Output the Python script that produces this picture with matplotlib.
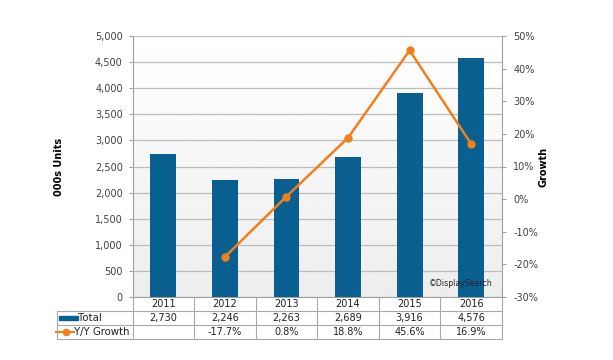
import matplotlib
matplotlib.use("Agg")
import matplotlib.pyplot as plt
from matplotlib.lines import Line2D
from matplotlib.patches import Rectangle
import numpy as np

years = ["2011", "2012", "2013", "2014", "2015", "2016"]
total = [2730, 2246, 2263, 2689, 3916, 4576]
growth = [None, -17.7, 0.8, 18.8, 45.6, 16.9]
total_labels = ["2,730", "2,246", "2,263", "2,689", "3,916", "4,576"]
growth_labels = ["", "-17.7%", "0.8%", "18.8%", "45.6%", "16.9%"]
left_ticks = list(range(0, 5001, 500))
right_ticks = list(range(-30, 51, 10))

W, H = 613, 360
fig = plt.figure(figsize=(W / 100, H / 100), dpi=100)
fig.patch.set_facecolor("white")

L, R, T, B = 132.5, 502, 36, 297
ax = fig.add_axes([L / W, 1 - B / H, (R - L) / W, (B - T) / H])
ax.set_facecolor("white")
# subtle vertical gradient background
grad = np.linspace(0.93, 1.0, 256).reshape(-1, 1)
ax.imshow(grad, aspect="auto", cmap="gray", vmin=0, vmax=1, origin="lower",
          extent=[-0.5, len(years) - 0.5, 0, 5000], zorder=0)

x = np.arange(len(years))
bar_color = "#0a5f91"
ax.bar(x, total, width=0.42, color=bar_color, zorder=3)
ax.set_xlim(-0.5, len(years) - 0.5)
ax.set_ylim(0, 5000)
ax.set_yticks(left_ticks)
ax.set_yticklabels([f"{v:,}" for v in left_ticks])
ax.yaxis.grid(True, color="#bcbcbc", linewidth=0.9, zorder=1)
ax.set_axisbelow(False)
ax.set_xticks([])
ax.tick_params(axis="y", labelsize=7, colors="#404040", length=3, width=0.8, color="#a0a0a0", pad=4)
for s in ["top", "right"]:
    ax.spines[s].set_visible(False)
ax.spines["left"].set_color("#a0a0a0")
ax.spines["bottom"].set_color("#a0a0a0")
ax.set_ylabel("000s Units", fontsize=7, fontweight="bold", labelpad=22)

ax2 = ax.twinx()
gx = [i for i, g in enumerate(growth) if g is not None]
gy = [g for g in growth if g is not None]
line_color = "#f07f1c"
ax2.plot(gx, gy, color=line_color, linewidth=1.8, marker="o", markersize=5,
         markerfacecolor=line_color, markeredgecolor=line_color, zorder=4)
ax2.set_ylim(-30, 50)
ax2.set_yticks(right_ticks)
ax2.set_yticklabels([f"{v}%" for v in right_ticks])
ax2.tick_params(axis="y", labelsize=7, colors="#404040", length=3, width=0.8, color="#a0a0a0", pad=5)
for s in ["top", "left", "bottom"]:
    ax2.spines[s].set_visible(False)
ax2.spines["right"].set_color("#a0a0a0")
ax2.set_ylabel("Growth", fontsize=7, fontweight="bold", labelpad=0)

ax.text(5.35, 268, "\u00a9DisplaySearch", fontsize=5.6, color="#222222",
        ha="right", va="center", zorder=5)

# Data table below the chart
def fx(px):
    return px / W

def fy(py):
    return 1 - py / H

col_w = (R - L) / len(years)
tbl_left = 57
rows_y = [311, 325, 339]
grid_c = "#a8a8a8"
for yy in rows_y:
    fig.add_artist(Line2D([fx(tbl_left), fx(R)], [fy(yy), fy(yy)], color=grid_c, linewidth=0.8))
fig.add_artist(Line2D([fx(tbl_left), fx(tbl_left)], [fy(rows_y[0]), fy(rows_y[-1])], color=grid_c, linewidth=0.8))
for i in range(len(years) + 1):
    xx = L + i * col_w
    fig.add_artist(Line2D([fx(xx), fx(xx)], [fy(B), fy(rows_y[-1])], color=grid_c, linewidth=0.8))

txt_c = "#222222"
for i, yr in enumerate(years):
    cx = L + (i + 0.5) * col_w
    fig.text(fx(cx), fy(304), yr, fontsize=7, ha="center", va="center", color=txt_c)
    fig.text(fx(cx), fy((rows_y[0] + rows_y[1]) / 2), total_labels[i], fontsize=7,
             ha="center", va="center", color=txt_c)
    fig.text(fx(cx), fy((rows_y[1] + rows_y[2]) / 2), growth_labels[i], fontsize=7,
             ha="center", va="center", color=txt_c)

# legend keys in table
r1 = (rows_y[0] + rows_y[1]) / 2
r2 = (rows_y[1] + rows_y[2]) / 2
fig.add_artist(Rectangle((fx(59), fy(r1 + 2)), fx(18.5), 4.5 / H, color=bar_color))
fig.text(fx(78), fy(r1), "Total", fontsize=7.3, ha="left", va="center", color=txt_c)
fig.add_artist(Line2D([fx(56), fx(74)], [fy(r2), fy(r2)], color=line_color, linewidth=1.5))
fig.add_artist(Line2D([fx(66)], [fy(r2)], color=line_color, marker="o", markersize=4.5))
fig.text(fx(74), fy(r2), "Y/Y Growth", fontsize=7.3, ha="left", va="center", color=txt_c)

fig.savefig("out.png", dpi=100, facecolor="white")
